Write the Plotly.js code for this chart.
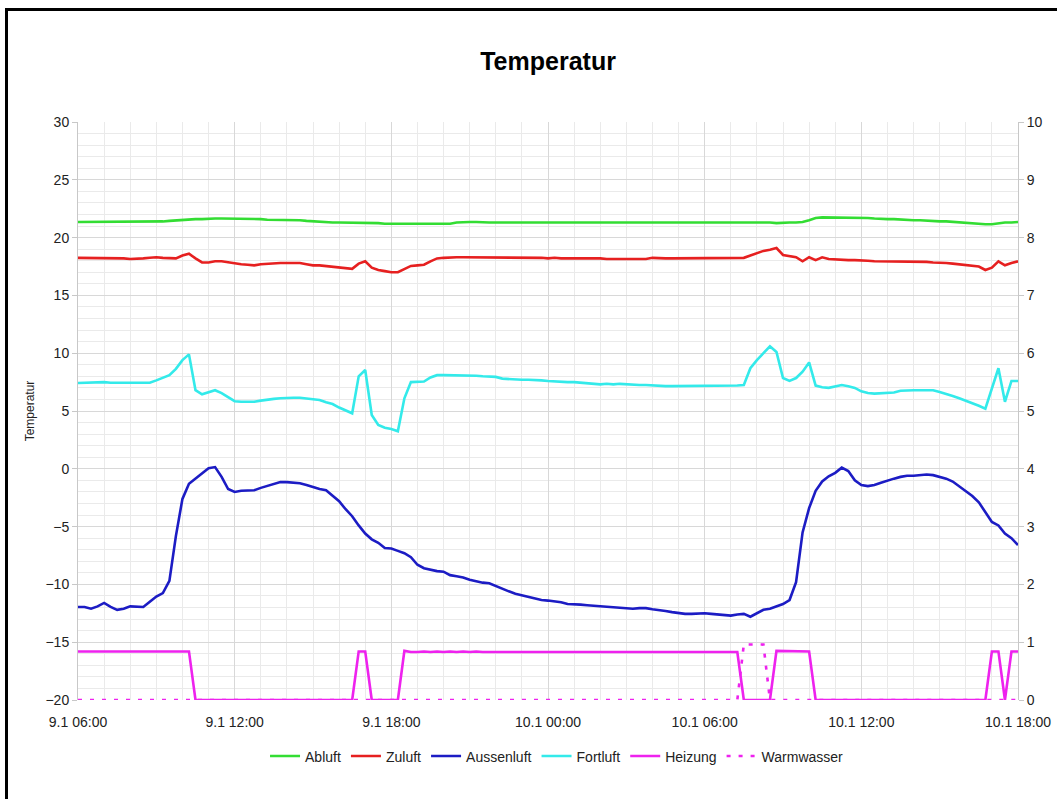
<!DOCTYPE html>
<html>
<head>
<meta charset="utf-8">
<script src="https://cdn.plot.ly/plotly-3.0.1.min.js"></script>
<style>
  html, body { margin: 0; padding: 0; background: #fff; overflow: hidden; }
  #chart { width: 1057px; height: 799px; }
  #frame { position: absolute; left: 5px; top: 8px; width: 2000px; height: 2000px;
           border-left: 3px solid #000; border-top: 3px solid #000; pointer-events: none; }
</style>
</head>
<body>
<div id="chart"></div>
<div id="frame"></div>
<script>
// ---- Data (15-minute samples, 9.1 06:00 .. 10.1 18:00) ----
const tickLabels = ["9.1 06:00", "9.1 12:00", "9.1 18:00", "10.1 00:00", "10.1 06:00", "10.1 12:00", "10.1 18:00"];
const tickTimes = ["2009-01-09 06:00", "2009-01-09 12:00", "2009-01-09 18:00", "2009-01-10 00:00", "2009-01-10 06:00", "2009-01-10 12:00", "2009-01-10 18:00"];

const abluft = [
  21.35, 21.35, 21.35, 21.35, 21.35, 21.35, 21.35, 21.35, 21.35, 21.35, 21.35, 21.35,
  21.35, 21.4, 21.45, 21.5, 21.55, 21.6, 21.6, 21.6, 21.65, 21.65, 21.65, 21.65,
  21.6, 21.6, 21.6, 21.6, 21.6, 21.55, 21.55, 21.55, 21.5, 21.5, 21.5, 21.45,
  21.4, 21.35, 21.35, 21.3, 21.3, 21.3, 21.3, 21.25, 21.25, 21.25, 21.25, 21.2,
  21.2, 21.2, 21.2, 21.2, 21.25, 21.25, 21.2, 21.2, 21.2, 21.2, 21.3, 21.35,
  21.35, 21.35, 21.3, 21.3, 21.3, 21.3, 21.3, 21.3, 21.3, 21.3, 21.3, 21.3,
  21.3, 21.3, 21.3, 21.3, 21.3, 21.3, 21.3, 21.3, 21.3, 21.3, 21.3, 21.3,
  21.3, 21.3, 21.3, 21.3, 21.35, 21.3, 21.3, 21.35, 21.3, 21.3, 21.3, 21.3,
  21.35, 21.3, 21.3, 21.3, 21.3, 21.35, 21.3, 21.3, 21.3, 21.3, 21.3, 21.25,
  21.3, 21.3, 21.3, 21.35, 21.5, 21.7, 21.75, 21.75, 21.75, 21.75, 21.75, 21.75,
  21.75, 21.7, 21.65, 21.6, 21.6, 21.6, 21.55, 21.55, 21.5, 21.5, 21.45, 21.45,
  21.4, 21.4, 21.35, 21.35, 21.3, 21.25, 21.2, 21.15, 21.15, 21.25, 21.3, 21.3,
  21.35
];

const zuluft = [
  18.25, 18.25, 18.25, 18.25, 18.25, 18.2, 18.2, 18.2, 18.15, 18.15, 18.2, 18.25,
  18.3, 18.25, 18.25, 18.2, 18.45, 18.6, 18.2, 17.85, 17.85, 17.95, 17.95, 17.85,
  17.75, 17.7, 17.65, 17.6, 17.7, 17.75, 17.8, 17.8, 17.8, 17.8, 17.8, 17.7,
  17.6, 17.6, 17.55, 17.5, 17.45, 17.4, 17.3, 17.75, 17.95, 17.4, 17.2, 17.1,
  17.0, 17.0, 17.25, 17.55, 17.6, 17.65, 17.95, 18.2, 18.25, 18.3, 18.3, 18.3,
  18.3, 18.3, 18.3, 18.3, 18.3, 18.25, 18.25, 18.3, 18.25, 18.25, 18.25, 18.25,
  18.2, 18.25, 18.2, 18.2, 18.25, 18.25, 18.2, 18.2, 18.2, 18.15, 18.15, 18.15,
  18.15, 18.15, 18.2, 18.15, 18.25, 18.2, 18.2, 18.2, 18.2, 18.2, 18.2, 18.2,
  18.2, 18.2, 18.2, 18.2, 18.2, 18.2, 18.25, 18.45, 18.65, 18.85, 18.95, 19.1,
  18.5, 18.4, 18.3, 17.95, 18.3, 18.05, 18.3, 18.15, 18.1, 18.1, 18.05, 18.05,
  18.05, 18.0, 17.95, 17.95, 17.9, 17.9, 17.95, 17.95, 17.95, 17.95, 17.9, 17.85,
  17.85, 17.8, 17.75, 17.7, 17.6, 17.55, 17.5, 17.2, 17.4, 17.95, 17.6, 17.8,
  17.95
];

const aussenluft = [
  -11.95, -11.95, -12.1, -11.9, -11.6, -11.95, -12.2, -12.1, -11.9, -11.95, -11.95, -11.5,
  -11.05, -10.75, -9.7, -5.8, -2.6, -1.3, -0.85, -0.4, 0.05, 0.15, -0.7, -1.75,
  -2.0, -1.9, -1.9, -1.85, -1.65, -1.5, -1.35, -1.15, -1.15, -1.2, -1.25, -1.4,
  -1.6, -1.75, -1.85, -2.3, -2.8, -3.5, -4.1, -4.9, -5.6, -6.1, -6.4, -6.85,
  -6.9, -7.1, -7.3, -7.65, -8.3, -8.6, -8.75, -8.85, -8.9, -9.2, -9.3, -9.4,
  -9.6, -9.75, -9.85, -9.9, -10.15, -10.4, -10.6, -10.8, -10.95, -11.1, -11.25, -11.35,
  -11.4, -11.45, -11.55, -11.7, -11.7, -11.75, -11.8, -11.85, -11.9, -11.95, -12.0, -12.0,
  -12.05, -12.1, -12.05, -12.05, -12.15, -12.2, -12.3, -12.4, -12.5, -12.55, -12.55, -12.5,
  -12.5, -12.55, -12.6, -12.65, -12.7, -12.6, -12.55, -12.8, -12.5, -12.2, -12.1, -11.9,
  -11.7, -11.35, -9.8, -5.5, -3.4, -1.9, -1.1, -0.65, -0.35, 0.1, -0.2, -1.0,
  -1.4, -1.5, -1.4, -1.2, -1.0, -0.85, -0.7, -0.6, -0.6, -0.55, -0.5, -0.55,
  -0.7, -0.85, -1.1, -1.5, -1.9, -2.35, -2.9, -3.8, -4.6, -4.9, -5.6, -6.0,
  -6.6
];

const fortluft = [
  7.42, 7.45, 7.45, 7.45, 7.5, 7.45, 7.45, 7.42, 7.42, 7.42, 7.42, 7.45,
  7.65, 7.85, 8.1, 8.65, 9.4, 9.9, 6.8, 6.45, 6.65, 6.8, 6.55, 6.2,
  5.85, 5.8, 5.8, 5.8, 5.9, 6.0, 6.05, 6.1, 6.15, 6.15, 6.15, 6.1,
  6.05, 5.95, 5.75, 5.6, 5.3, 5.05, 4.8, 8.0, 8.55, 4.65, 3.8, 3.55,
  3.45, 3.25, 6.1, 7.5, 7.5, 7.55, 7.9, 8.1, 8.1, 8.1, 8.1, 8.1,
  8.05, 8.05, 8.0, 7.95, 7.95, 7.8, 7.75, 7.75, 7.7, 7.7, 7.7, 7.65,
  7.6, 7.55, 7.5, 7.5, 7.5, 7.45, 7.4, 7.4, 7.3, 7.35, 7.3, 7.35,
  7.3, 7.3, 7.25, 7.25, 7.2, 7.15, 7.15, 7.15, 7.15, 7.15, 7.15, 7.15,
  7.15, 7.15, 7.15, 7.15, 7.15, 7.2, 7.25, 8.7, 9.4, 10.0, 10.6, 10.1,
  7.85, 7.6, 7.85, 8.4, 9.2, 7.2, 7.05, 7.0, 7.15, 7.25, 7.15, 7.0,
  6.7, 6.55, 6.5, 6.55, 6.55, 6.6, 6.75, 6.8, 6.8, 6.8, 6.8, 6.8,
  6.65, 6.5, 6.3, 6.1, 5.9, 5.7, 5.45, 5.2, 6.9, 8.7, 5.8, 7.6,
  7.6
];

const heizung = [
  0.84, 0.84, 0.83, 0.83, 0.83, 0.84, 0.84, 0.83, 0.83, 0.84, 0.83, 0.83,
  0.84, 0.84, 0.84, 0.84, 0.84, 0.84, 0, 0, 0, 0, 0, 0,
  0, 0, 0, 0, 0, 0, 0, 0, 0, 0, 0, 0,
  0, 0, 0, 0, 0, 0, 0, 0.84, 0.84, 0, 0, 0,
  0, 0, 0.85, 0.83, 0.83, 0.84, 0.83, 0.84, 0.83, 0.84, 0.83, 0.84,
  0.83, 0.84, 0.83, 0.83, 0.84, 0.83, 0.83, 0.83, 0.84, 0.83, 0.83, 0.83,
  0.83, 0.83, 0.83, 0.83, 0.84, 0.83, 0.83, 0.83, 0.83, 0.83, 0.84, 0.83,
  0.83, 0.83, 0.83, 0.83, 0.84, 0.83, 0.83, 0.83, 0.83, 0.83, 0.83, 0.83,
  0.83, 0.83, 0.83, 0.83, 0.83, 0.83, 0, 0, 0, 0, 0, 0.85,
  0.85, 0.85, 0.84, 0.84, 0.84, 0, 0, 0, 0, 0, 0, 0,
  0, 0, 0, 0, 0, 0, 0, 0, 0, 0, 0, 0,
  0, 0, 0, 0, 0, 0, 0, 0, 0.84, 0.84, 0, 0.84,
  0.84
];

const warmwasser = [
  0, 0, 0, 0, 0, 0, 0, 0, 0, 0, 0, 0,
  0, 0, 0, 0, 0, 0, 0, 0, 0, 0, 0, 0,
  0, 0, 0, 0, 0, 0, 0, 0, 0, 0, 0, 0,
  0, 0, 0, 0, 0, 0, 0, 0, 0, 0, 0, 0,
  0, 0, 0, 0, 0, 0, 0, 0, 0, 0, 0, 0,
  0, 0, 0, 0, 0, 0, 0, 0, 0, 0, 0, 0,
  0, 0, 0, 0, 0, 0, 0, 0, 0, 0, 0, 0,
  0, 0, 0, 0, 0, 0, 0, 0, 0, 0, 0, 0,
  0, 0, 0, 0, 0, 0, 0.96, 0.96, 0.96, 0.96, 0, 0,
  0, 0, 0, 0, 0, 0, 0, 0, 0, 0, 0, 0,
  0, 0, 0, 0, 0, 0, 0, 0, 0, 0, 0, 0,
  0, 0, 0, 0, 0, 0, 0, 0, 0, 0, 0, 0,
  0
];

// time axis: 15-minute steps starting 9.1 06:00
function pad(n) { return (n < 10 ? "0" : "") + n; }
const times = [];
for (let i = 0; i < abluft.length; i++) {
  const mins = 6 * 60 + i * 15;
  const day = 9 + Math.floor(mins / 1440);
  const m = mins % 1440;
  times.push("2009-01-" + pad(day) + " " + pad(Math.floor(m / 60)) + ":" + pad(m % 60));
}

const FONT = "Liberation Sans, Arial, sans-serif";
const W = 2.6;

const traces = [
  {name: "Abluft", y: abluft, yaxis: "y", line: {color: "#33dd33", width: W}},
  {name: "Zuluft", y: zuluft, yaxis: "y", line: {color: "#e62020", width: W}},
  {name: "Aussenluft", y: aussenluft, yaxis: "y", line: {color: "#1c1cc4", width: W}},
  {name: "Fortluft", y: fortluft, yaxis: "y", line: {color: "#33eaea", width: W}},
  {name: "Heizung", y: heizung, yaxis: "y2", line: {color: "#ee22ee", width: W}},
  {name: "Warmwasser", y: warmwasser, yaxis: "y2", line: {color: "#ee22ee", width: W, dash: "4px,8px"}}
].map(t => Object.assign({x: times, type: "scatter", mode: "lines", hoverinfo: "skip"}, t));

const layout = {
  width: 1057, height: 799,
  paper_bgcolor: "#ffffff", plot_bgcolor: "#ffffff",
  margin: {l: 78, r: 39, t: 122, b: 99, pad: 0},
  font: {family: FONT, size: 14, color: "#222"},
  title: {text: "Temperatur", x: 0.5185, xanchor: "center", y: 0.923, yanchor: "middle",
          font: {family: FONT, size: 25, color: "#000", weight: "bold"}},
  showlegend: true,
  legend: {orientation: "h", x: 0.5096, xanchor: "center", y: -0.07, yanchor: "top",
           font: {family: FONT, size: 14, color: "#222"}, itemwidth: 30, tracegroupgap: 0},
  xaxis: {
    type: "date",
    range: [tickTimes[0], tickTimes[tickTimes.length - 1]],
    tickmode: "array", tickvals: tickTimes, ticktext: tickLabels,
    showgrid: true, gridcolor: "#d8d8d8", gridwidth: 1,
    minor: {tickmode: "linear", tick0: tickTimes[0], dtick: 3600000, showgrid: true, gridcolor: "#eaeaea", gridwidth: 1},
    zeroline: false, showline: false, ticks: "outside", ticklen: 9, tickcolor: "rgba(0,0,0,0)",
    tickfont: {family: FONT, size: 14, color: "#222"}
  },
  yaxis: {
    range: [-20, 30], dtick: 5, tick0: 0,
    showgrid: true, gridcolor: "#d8d8d8", gridwidth: 1,
    minor: {dtick: 1, showgrid: true, gridcolor: "#eaeaea", gridwidth: 1},
    zeroline: false, showline: true, linecolor: "#c8c8c8", linewidth: 1,
    ticks: "outside", ticklen: 5, tickcolor: "#c8c8c8",
    tickfont: {family: FONT, size: 14, color: "#222"},
    title: {text: "Temperatur", standoff: 8, font: {family: FONT, size: 12, color: "#222"}}
  },
  yaxis2: {
    range: [0, 10], dtick: 1, tick0: 0, overlaying: "y", side: "right",
    showgrid: false, zeroline: false, showline: true, linecolor: "#c8c8c8", linewidth: 1,
    ticks: "outside", ticklen: 5, tickcolor: "#c8c8c8",
    tickfont: {family: FONT, size: 14, color: "#222"}
  }
};

Plotly.newPlot("chart", traces, layout, {staticPlot: true, displayModeBar: false});
</script>
</body>
</html>
